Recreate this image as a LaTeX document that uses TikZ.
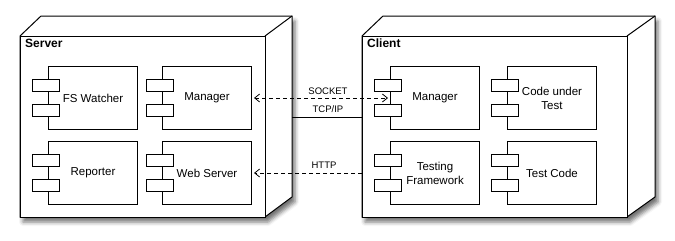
\documentclass[tikz,border=0pt]{standalone}
\usepackage{fontspec}
\setmainfont{Liberation Sans}
\usetikzlibrary{arrows.meta, shadows.blur}

\tikzset{
    box/.style={draw, line width=1pt, fill=white},
    comp/.style={box, anchor=north west, minimum width=89pt, minimum height=63pt,
        inner sep=0pt, align=center, font=\fontsize{11.5}{14}\selectfont},
    nodetitle/.style={anchor=north west, inner sep=0pt, font=\bfseries\fontsize{12}{14}\selectfont},
    link/.style={line width=0.8pt},
    linklabel/.style={inner sep=0pt, font=\fontsize{9.5}{11}\selectfont},
    barb/.style={line width=0.8pt, dash pattern=on 4pt off 3pt,
        >={Straight Barb[length=5pt, width=8pt]}},
    shade3d/.style={blur shadow={shadow xshift=3pt, shadow yshift=-5pt,
        shadow blur radius=4pt, shadow opacity=55}}
}

% component box with its two little ports on the left edge
\newcommand{\umlcomp}[3]{%
    \node[comp] (#1) at (#2) {#3};
    \draw[box] ([shift={(-16,13)}]#1.north west) rectangle ++(27,12);
    \draw[box] ([shift={(-16,38)}]#1.north west) rectangle ++(27,12);
}

\begin{document}
\begin{tikzpicture}[x=1pt, y=-1pt]
        \useasboundingbox (0,0) rectangle (675,241);
        % Server node
        \draw [box, shade3d] (20,36) -- (41,16) -- (292,16) -- (292,197) -- (265,217) -- (20,217) -- cycle;
        \draw [box] (20,36) rectangle (265,217);
        \draw [line width=1pt] (265,36) -- (292,16);
        \node [nodetitle] (srvtitle) at (25,39) {Server};
        % Client node
        \draw [box, shade3d] (362,36) -- (383,16) -- (655,16) -- (655,197) -- (627,217) -- (362,217) -- cycle;
        \draw [box] (362,36) rectangle (627,217);
        \draw [line width=1pt] (627,36) -- (655,16);
        \node [nodetitle] (clttitle) at (367,39) {Client};
        % Server components
        \umlcomp{watcher}{48,66}{FS Watcher}
        \umlcomp{smgr}{162,66}{Manager}
        \umlcomp{reporter}{48,141}{Reporter}
        \umlcomp{websrv}{162,141}{Web Server}
        % Client components
        \umlcomp{cmgr}{390,66}{Manager}
        \umlcomp{cut}{507,66}{Code under\\Test}
        \umlcomp{framework}{390,141}{Testing\\Framework}
        \umlcomp{testcode}{507,141}{Test Code}
        % Links
        \coordinate (srvedge) at (292,117);
        \coordinate (cltedge) at (362,117);
        \coordinate (cltfront) at (362,173);
        \draw [barb, <->] ([xshift=2pt]smgr.east) -- ([xshift=-2pt]cmgr.west);
        \draw [link] (srvedge) -- (cltedge);
        \draw [barb, ->] (cltfront) -- ([xshift=2pt]websrv.east |- cltfront);
        \node [linklabel] (socket) at (328,91) {SOCKET};
        \node [linklabel] (tcpip) at (328,109) {TCP/IP};
        \node [linklabel] (http) at (324,165) {HTTP};
    \end{tikzpicture}
\end{document}
